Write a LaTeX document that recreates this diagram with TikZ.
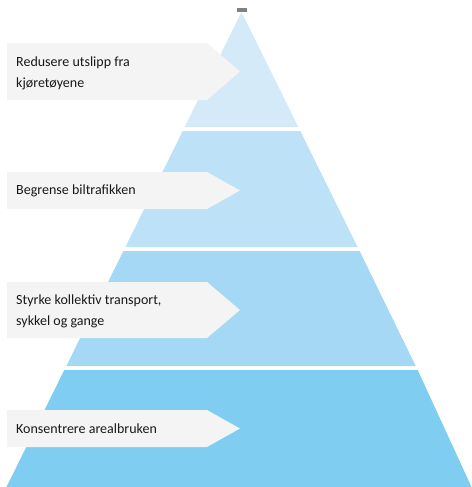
\documentclass[tikz,border=0pt]{standalone}
\usepackage{fontspec}
\setmainfont{Carlito}
\usetikzlibrary{positioning}

\definecolor{lvlA}{HTML}{D4EAF9}
\definecolor{lvlB}{HTML}{BDE1F7}
\definecolor{lvlC}{HTML}{A5D8F4}
\definecolor{lvlD}{HTML}{7FCDF1}
\definecolor{boxgray}{HTML}{F4F4F4}

\begin{document}
\begin{tikzpicture}[x=1pt, y=-1pt]
  \tikzstyle{lbl}=[anchor=west, align=left, inner sep=0pt, font=\fontsize{14}{21}\selectfont, text=black!90]
  \tikzstyle{tag}=[fill=boxgray]

  \useasboundingbox (0,0) rectangle (471,487);

  % pyramid levels
  \fill[lvlA] (241.5,12) -- (298.3,127) -- (184.7,127) -- cycle;
  \fill[lvlB] (182.7,131) -- (300.3,131) -- (357.6,247) -- (125.4,247) -- cycle;
  \fill[lvlC] (123.4,251) -- (359.6,251) -- (415.7,366) -- (66.3,366) -- cycle;
  \fill[lvlD] (64.3,370) -- (417.7,370) -- (471.5,487) -- (6.5,487) -- cycle;
  \fill[black!50] (237,8) rectangle (247,12);

  % labels
  \fill[tag] (7,43) -- (207,43) -- (240,71.5) -- (207,100) -- (7,100) -- cycle;
  \fill[tag] (7,172) -- (207,172) -- (240,190.5) -- (207,209) -- (7,209) -- cycle;
  \fill[tag] (7,282) -- (207,282) -- (240,310) -- (207,338) -- (7,338) -- cycle;
  \fill[tag] (7,410) -- (207,410) -- (240,428.5) -- (207,447) -- (7,447) -- cycle;

  \node[lbl] (utslipp) at (16,73) {Redusere utslipp fra\\kjøretøyene};
  \node[lbl] (bil) at (16,191) {Begrense biltrafikken};
  \node[lbl] (kollektiv) at (16,311) {Styrke kollektiv transport,\\sykkel og gange};
  \node[lbl] (areal) at (16,429) {Konsentrere arealbruken};
\end{tikzpicture}
\end{document}
